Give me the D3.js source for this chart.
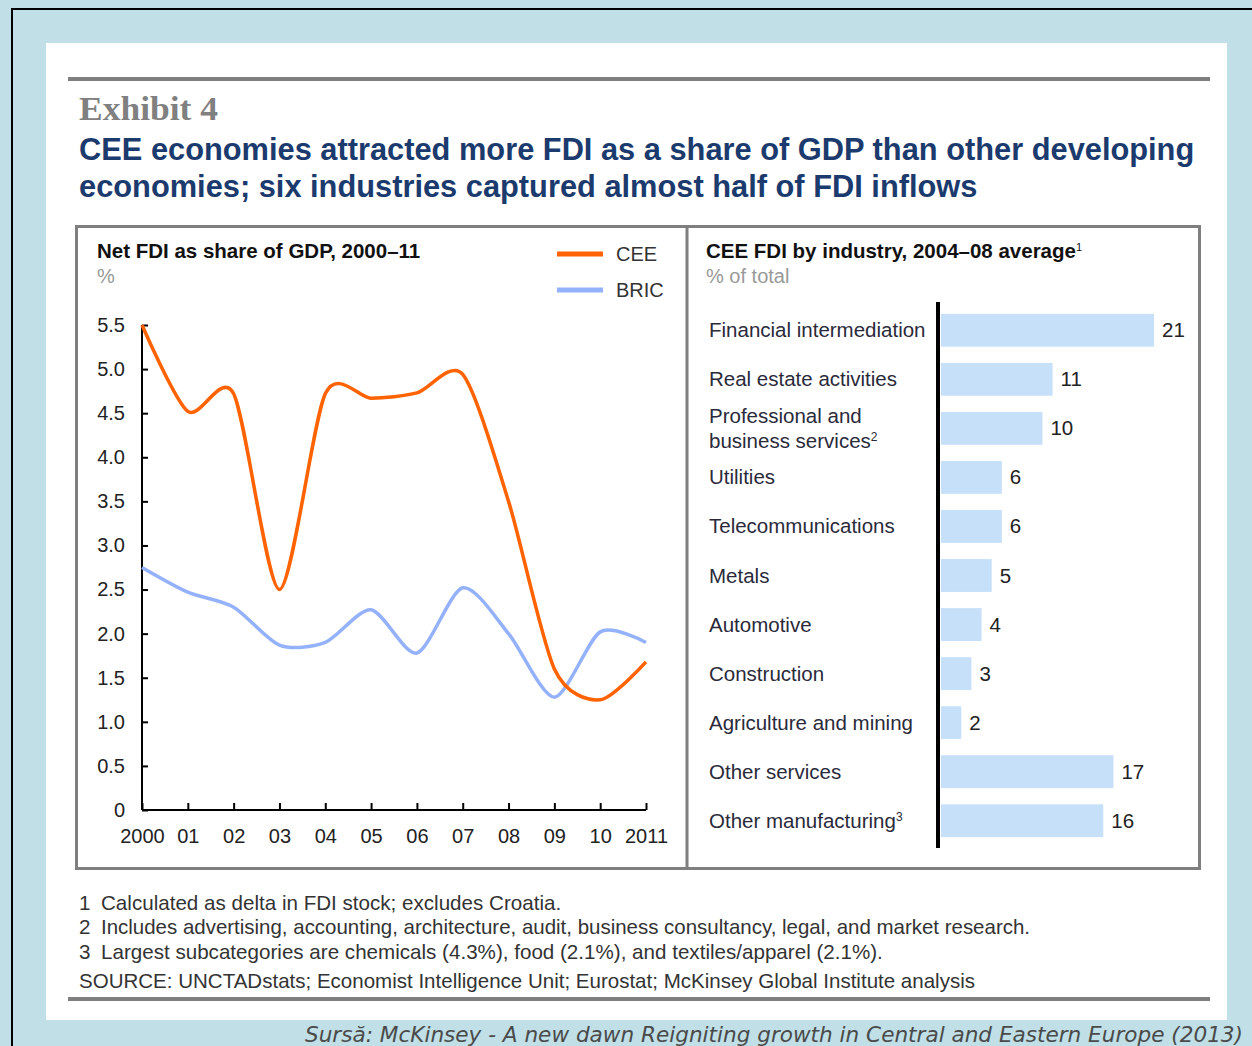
<!DOCTYPE html>
<html lang="en">
  <head>
    <meta charset="UTF-8">
    <title>Exhibit 4</title>
    <style>
      body { margin: 0; background: #c0dfe6; }
      svg { display: block; }
      text { font-family: "Liberation Sans", Arial, sans-serif; }
    </style>
  </head>
  <body>
    <div id="chart"></div>
    <script src="https://d3js.org/d3.v7.min.js"></script>
    <script>
      // line chart data
      let years = [2000, 2001, 2002, 2003, 2004, 2005, 2006, 2007, 2008, 2009, 2010, 2011];
      let yearLabels = ["2000", "01", "02", "03", "04", "05", "06", "07", "08", "09", "10", "2011"];
      let cee = [5.5, 4.52, 4.72, 2.5, 4.72, 4.67, 4.73, 4.94, 3.5, 1.6, 1.25, 1.68];
      let bric = [2.75, 2.47, 2.3, 1.87, 1.9, 2.27, 1.78, 2.52, 2.0, 1.28, 2.02, 1.9];
      let yTicks = [0, 0.5, 1.0, 1.5, 2.0, 2.5, 3.0, 3.5, 4.0, 4.5, 5.0, 5.5];

      // bar chart data
      let industries = ["Financial intermediation", "Real estate activities", "Professional and|business services²",
        "Utilities", "Telecommunications", "Metals", "Automotive", "Construction",
        "Agriculture and mining", "Other services", "Other manufacturing³"];
      let shares = [21, 11, 10, 6, 6, 5, 4, 3, 2, 17, 16];

      let noteNums = ["1", "2", "3"];
      let notes = [
        "Calculated as delta in FDI stock; excludes Croatia.",
        "Includes advertising, accounting, architecture, audit, business consultancy, legal, and market research.",
        "Largest subcategories are chemicals (4.3%), food (2.1%), and textiles/apparel (2.1%)."
      ];
      let source = "SOURCE: UNCTADstats; Economist Intelligence Unit; Eurostat; McKinsey Global Institute analysis";

      let width = 1252;
      let height = 1046;
      let svg = d3.select("#chart").append("svg").attr("width", width).attr("height", height);

      // frame
      svg.append("rect").attr("x", 0).attr("y", 0).attr("width", width).attr("height", height).attr("fill", "#c0dfe6");
      svg.append("path").attr("d", "M12,1046 V9 H1252").attr("fill", "none").attr("stroke", "#000").attr("stroke-width", 2);
      svg.append("rect").attr("x", 46).attr("y", 43).attr("width", 1181).attr("height", 977).attr("fill", "#fff");

      svg.append("line").attr("x1", 68).attr("x2", 1210).attr("y1", 79).attr("y2", 79)
        .attr("stroke", "#7f7f7f").attr("stroke-width", 4);
      svg.append("line").attr("x1", 68).attr("x2", 1210).attr("y1", 999).attr("y2", 999)
        .attr("stroke", "#7f7f7f").attr("stroke-width", 4);

      svg.append("text").attr("x", 79).attr("y", 120).text("Exhibit 4")
        .style("font-family", "'Liberation Serif', serif").style("font-weight", "bold")
        .style("font-size", "34px").attr("fill", "#808080")
        .attr("textLength", 139).attr("lengthAdjust", "spacingAndGlyphs");

      let title = svg.append("text").attr("fill", "#1b3a6d").style("font-weight", "bold").style("font-size", "30.8px");
      title.append("tspan").attr("x", 79).attr("y", 160).text("CEE economies attracted more FDI as a share of GDP than other developing");
      title.append("tspan").attr("x", 79).attr("y", 197).text("economies; six industries captured almost half of FDI inflows");

      // panel boxes
      svg.append("rect").attr("x", 76.5).attr("y", 226.5).attr("width", 1123).attr("height", 642)
        .attr("fill", "none").attr("stroke", "#7f7f7f").attr("stroke-width", 3);
      svg.append("line").attr("x1", 687).attr("x2", 687).attr("y1", 226).attr("y2", 869)
        .attr("stroke", "#7f7f7f").attr("stroke-width", 3);

      // ---- left: line chart ----
      svg.append("text").attr("x", 97).attr("y", 258).text("Net FDI as share of GDP, 2000–11")
        .style("font-weight", "bold").style("font-size", "20.5px").attr("fill", "#111");
      svg.append("text").attr("x", 97).attr("y", 283).text("%")
        .style("font-size", "20px").attr("fill", "#999");

      let legend = [{ name: "CEE", color: "#ff6200", y: 254 }, { name: "BRIC", color: "#94b2fb", y: 290 }];
      legend.forEach(function(d) {
        svg.append("line").attr("x1", 557).attr("x2", 603).attr("y1", d.y).attr("y2", d.y)
          .attr("stroke", d.color).attr("stroke-width", 5);
        svg.append("text").attr("x", 616).attr("y", d.y + 7).text(d.name)
          .style("font-size", "20px").attr("fill", "#333");
      });

      let x = d3.scaleLinear().domain([2000, 2011]).range([142, 646]);
      let y = d3.scaleLinear().domain([0, 5.5]).range([810, 325]);

      let yAxis = svg.append("g").attr("transform", "translate(142,0)")
        .call(d3.axisLeft(y).tickValues(yTicks).tickSize(-6).tickPadding(17)
          .tickFormat(function(d) { return d === 0 ? "0" : d3.format(".1f")(d); }));
      let xAxis = svg.append("g").attr("transform", "translate(0,810)")
        .call(d3.axisBottom(x).tickValues(years).tickSize(-7).tickPadding(19)
          .tickFormat(function(d, i) { return yearLabels[i]; }));
      [yAxis, xAxis].forEach(function(g) {
        g.select(".domain").attr("stroke", "#000").attr("stroke-width", 2);
        g.selectAll(".tick line").attr("stroke", "#000").attr("stroke-width", 2);
        g.selectAll(".tick text").style("font-size", "20px").style("font-family", "'Liberation Sans', Arial, sans-serif")
          .attr("fill", "#222");
      });
      xAxis.select(".domain").attr("d", "M142,0H646");
      yAxis.select(".domain").attr("d", "M0,325V810");

      let line = d3.line()
        .x(function(d, i) { return x(years[i]); })
        .y(function(d) { return y(d); })
        .curve(d3.curveCardinal.tension(0.2));

      svg.append("path").datum(bric).attr("d", line).attr("fill", "none")
        .attr("stroke", "#94b2fb").attr("stroke-width", 3.5);
      svg.append("path").datum(cee).attr("d", line).attr("fill", "none")
        .attr("stroke", "#ff6200").attr("stroke-width", 3.5);

      // ---- right: bar chart ----
      let sub = svg.append("text").attr("x", 706).attr("y", 258)
        .style("font-weight", "bold").style("font-size", "20.5px").attr("fill", "#111");
      sub.append("tspan").text("CEE FDI by industry, 2004–08 average");
      sub.append("tspan").attr("dy", -7).style("font-size", "11px").style("font-weight", "normal").text("1");
      svg.append("text").attr("x", 706).attr("y", 283).text("% of total")
        .style("font-size", "20px").attr("fill", "#999");

      let bx = d3.scaleLinear().domain([0, 21]).range([941, 1154]);
      let by = d3.scaleBand().domain(industries).range([305, 846]).paddingInner(0.33).paddingOuter(0.18);

      svg.selectAll(".bar").data(shares).enter().append("rect")
        .attr("class", "bar")
        .attr("x", bx(0))
        .attr("y", function(d, i) { return by(industries[i]); })
        .attr("width", function(d) { return bx(d) - bx(0); })
        .attr("height", by.bandwidth())
        .attr("fill", "#c7e0f9");

      svg.selectAll(".val").data(shares).enter().append("text")
        .attr("class", "val")
        .attr("x", function(d) { return bx(d) + 8; })
        .attr("y", function(d, i) { return by(industries[i]) + by.bandwidth() / 2 + 7; })
        .text(function(d) { return d; })
        .style("font-size", "20.5px").attr("fill", "#222");

      industries.forEach(function(name, i) {
        let parts = name.split("|");
        let cy = by(name) + by.bandwidth() / 2 + 7;
        let t = svg.append("text").style("font-size", "20.5px").attr("fill", "#2a2a3a");
        parts.forEach(function(p, j) {
          let yy = cy + (j - (parts.length - 1) / 2) * 25;
          let m = p.match(/^(.*?)([²³]?)$/);
          t.append("tspan").attr("x", 709).attr("y", yy).text(m[1]);
          if (m[2]) {
            t.append("tspan").attr("dy", -7).style("font-size", "12px").text(m[2] === "²" ? "2" : "3");
          }
        });
      });

      svg.append("line").attr("x1", 938).attr("x2", 938).attr("y1", 302).attr("y2", 848)
        .attr("stroke", "#000").attr("stroke-width", 4);

      // footnotes
      let noteY = [910, 934, 959];
      notes.forEach(function(f, i) {
        let t = svg.append("text").attr("y", noteY[i]).style("font-size", "20.6px").attr("fill", "#333");
        t.append("tspan").attr("x", 79).text(noteNums[i]);
        t.append("tspan").attr("x", 101).text(f)
          .attr("textLength", i === 1 ? 929 : null).attr("lengthAdjust", "spacingAndGlyphs");
      });
      svg.append("text").attr("x", 79).attr("y", 988).text(source)
        .style("font-size", "20.6px").attr("fill", "#333")
        .attr("textLength", 896).attr("lengthAdjust", "spacingAndGlyphs");

      svg.append("text").attr("x", 1243).attr("y", 1042).attr("text-anchor", "end")
        .text("Sursă: McKinsey - A new dawn Reigniting growth in Central and Eastern Europe (2013)")
        .style("font-family", "'DejaVu Sans', Verdana, sans-serif")
        .style("font-style", "italic").style("font-size", "21px").attr("fill", "#4a4a4a")
        .attr("textLength", 938).attr("lengthAdjust", "spacingAndGlyphs");
    </script>
  </body>
</html>
